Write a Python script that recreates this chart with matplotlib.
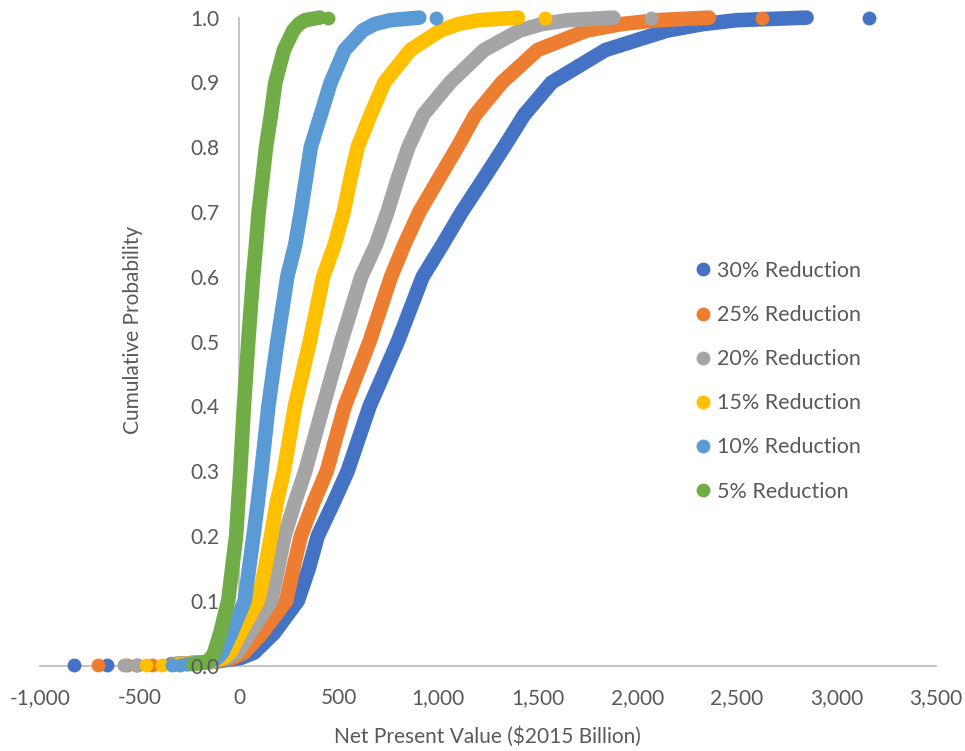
import matplotlib.pyplot as plt
from matplotlib.lines import Line2D

plt.rcParams['font.family'] = ['Lato', 'DejaVu Sans']

series_names = ['30% Reduction', '25% Reduction', '20% Reduction',
                '15% Reduction', '10% Reduction', '5% Reduction']
colors = ['#4472C4', '#ED7D31', '#A5A5A5', '#FFC000', '#5B9BD5', '#70AD47']

# cumulative probability levels
prob = [0.002, 0.006, 0.012, 0.02, 0.05, 0.1, 0.15, 0.2, 0.25, 0.3, 0.4, 0.5,
        0.6, 0.65, 0.7, 0.75, 0.8, 0.85, 0.9, 0.95, 0.98, 0.99, 0.996, 1.0]

# net present value ($2015 billion) at each level
npv_30 = [-340, -120, 10, 75, 175, 295, 350, 395, 472, 545, 655, 797,
          922, 1022, 1118, 1225, 1330, 1432, 1570, 1840, 2150, 2330, 2500, 2850]
npv_25 = [-330, -130, -30, 25, 115, 237, 272, 310, 372, 440, 530, 655,
          763, 830, 905, 1000, 1096, 1186, 1320, 1499, 1745, 1920, 2100, 2360]
npv_20 = [-320, -140, -60, -10, 55, 162, 195, 228, 278, 332, 422, 513,
          613, 688, 745, 795, 850, 925, 1060, 1230, 1409, 1520, 1650, 1880]
npv_15 = [-300, -140, -80, -45, 5, 95, 130, 160, 188, 225, 280, 355,
          422, 480, 525, 558, 595, 660, 730, 860, 1010, 1100, 1200, 1400]
npv_10 = [-260, -150, -110, -85, -40, 28, 50, 72, 93, 112, 147, 192,
          242, 282, 310, 335, 360, 410, 460, 530, 620, 680, 760, 905]
npv_5 = [-230, -160, -140, -125, -95, -55, -35, -15, -5, 6, 24, 46,
         70, 85, 98, 117, 135, 160, 182, 225, 272, 300, 330, 405]

# isolated extreme draws
low_30 = [-828, -662, -512]
low_25 = [-707, -563, -440]
low_20 = [-578, -520]
low_15 = [-470, -387]
low_10 = [-337, -295]
low_5 = []
high_30 = [3165]
high_25 = [2625]
high_20 = [2070]
high_15 = [1535]
high_10 = [990]
high_5 = [445]
first_rank = 0.001

curves = [npv_30, npv_25, npv_20, npv_15, npv_10, npv_5]
lows = [low_30, low_25, low_20, low_15, low_10, low_5]
highs = [high_30, high_25, high_20, high_15, high_10, high_5]

text_color = '#595959'
axis_color = '#BFBFBF'

fig = plt.figure(figsize=(9.65, 7.51), dpi=100)
ax = fig.add_axes([40 / 965, 1 - 665.6 / 751, 896 / 965, 648 / 751])

for i, (xs, lo, hi) in enumerate(zip(curves, lows, highs)):
    z = 3 + i
    ax.plot(xs, prob, color=colors[i], lw=10.5, solid_capstyle='round',
            solid_joinstyle='round', zorder=z, clip_on=False)
    ax.plot(lo, [first_rank] * len(lo), 'o', color=colors[i], ms=10,
            mew=0, zorder=z, clip_on=False)
    ax.plot(hi, [1.0] * len(hi), 'o', color=colors[i], ms=10,
            mew=0, zorder=z, clip_on=False)

ax.set_xlim(-1000, 3500)
ax.set_ylim(0, 1.0)
ax.set_xticks(range(-1000, 3501, 500))
ax.set_xticklabels([f'{v:,}' for v in range(-1000, 3501, 500)])
ax.set_yticks([i / 10 for i in range(11)])
ax.set_yticklabels([f'{i / 10:.1f}' for i in range(11)])

for s in ['top', 'right']:
    ax.spines[s].set_visible(False)
ax.spines['left'].set_position(('data', 0))
for s in ['left', 'bottom']:
    ax.spines[s].set_color(axis_color)
    ax.spines[s].set_linewidth(1.3)
    ax.spines[s].set_zorder(1)
ax.xaxis.set_zorder(20)
ax.yaxis.set_zorder(20)
ax.tick_params(axis='both', length=0, labelsize=15, labelcolor=text_color)
ax.tick_params(axis='x', pad=16)
ax.tick_params(axis='y', pad=14)

ax.set_xlabel('Net Present Value ($2015 Billion)', fontsize=15, color=text_color)
ax.xaxis.set_label_coords(0.499, -0.093)
ax.set_ylabel('Cumulative Probability', fontsize=15, color=text_color)
ax.yaxis.set_label_coords(0.115, 0.518)

handles = [Line2D([], [], ls='none', marker='o', ms=10, mew=0, color=c)
           for c in colors]
ax.legend(handles, series_names, loc='upper left', frameon=False,
          bbox_to_anchor=(697 / 965, 1 - 261 / 751), bbox_transform=fig.transFigure,
          fontsize=15.5, labelcolor=text_color, handlelength=0.6,
          handletextpad=0.35, labelspacing=1.12, borderpad=0, borderaxespad=0)

fig.savefig('out.png', dpi=100)
